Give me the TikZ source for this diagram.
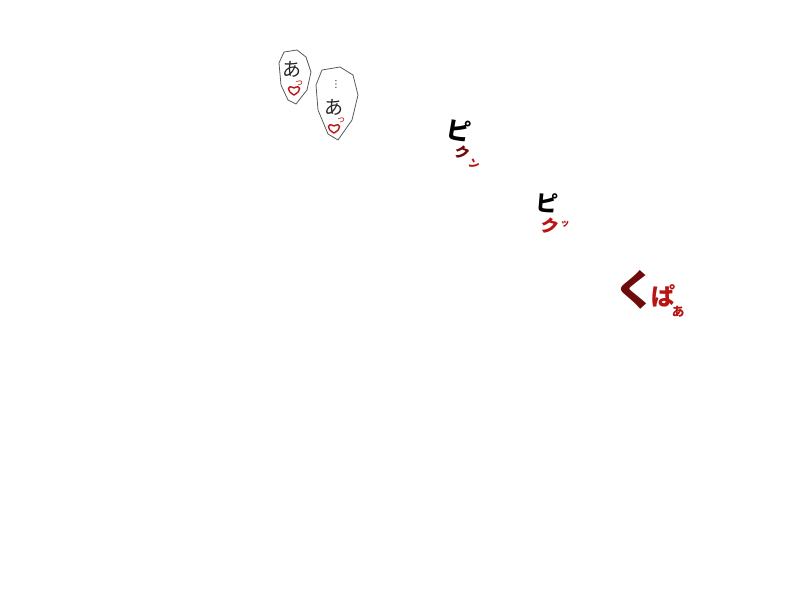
\documentclass[tikz,border=0pt]{standalone}
\usepackage{fontspec}
\newfontfamily\jp{Noto Sans CJK JP}
\newfontfamily\sym{DejaVu Sans}
\definecolor{sfxred}{RGB}{185,20,20}
\definecolor{sfxdark}{RGB}{110,10,10}
\tikzset{
  bubble/.style={draw=black!65, line width=0.8pt, fill=white, line join=round},
  jtxt/.style={inner sep=0pt, font=\jp},
  heartline/.style={draw=sfxred, line width=1.4pt, line join=round},
}
\begin{document}
\begin{tikzpicture}[x=1pt,y=-1pt]
\useasboundingbox (0,0) rectangle (800,600);
% bubble 1
\draw[bubble] (284,52) -- (297,50) -- (306,57) -- (311,72) -- (307,90) -- (296,104) -- (288,100) -- (281,85) -- (279,63) -- cycle;
\node[jtxt, font=\jp\fontsize{19}{19}\selectfont, text=black!85] (a1) at (292,69) {あ};
\node[jtxt, font=\jp\fontsize{9}{9}\selectfont, text=sfxred] (t1) at (299,83) {っ};
\coordinate (h1) at (294,90);
\draw[heartline] ([shift={(0,5)}]h1) .. controls ([shift={(-8,1)}]h1) and ([shift={(-7,-6)}]h1) .. ([shift={(0,-2)}]h1) .. controls ([shift={(7,-6)}]h1) and ([shift={(8,1)}]h1) .. cycle;
% bubble 2
\draw[bubble] (322,70) -- (340,67) -- (353,75) -- (358,95) -- (352,120) -- (338,140) -- (328,134) -- (318,110) -- (316,85) -- cycle;
\node[jtxt, font=\sym\fontsize{10}{10}\selectfont, rotate=90, text=black!80] (d2) at (336,84) {…};
\node[jtxt, font=\jp\fontsize{19}{19}\selectfont, text=black!85] (a2) at (334,107) {あ};
\node[jtxt, font=\jp\fontsize{9}{9}\selectfont, text=sfxred] (t2) at (341,120) {っ};
\coordinate (h2) at (334,128);
\draw[heartline] ([shift={(0,5)}]h2) .. controls ([shift={(-8,1)}]h2) and ([shift={(-7,-6)}]h2) .. ([shift={(0,-2)}]h2) .. controls ([shift={(7,-6)}]h2) and ([shift={(8,1)}]h2) .. cycle;
% ピクン
\node[jtxt, font=\jp\bfseries\fontsize{24}{24}\selectfont, rotate=-10, text=black] (p1) at (459,130) {ピ};
\node[jtxt, font=\jp\bfseries\fontsize{15}{15}\selectfont, rotate=-20, text=sfxdark] (k1) at (462,153) {ク};
\node[jtxt, font=\jp\bfseries\fontsize{11}{11}\selectfont, rotate=-25, text=sfxred] (n1) at (474,164) {ン};
% ピクッ
\node[jtxt, font=\jp\bfseries\fontsize{22}{22}\selectfont, rotate=-5, text=black] (p2) at (547,203) {ピ};
\node[jtxt, font=\jp\bfseries\fontsize{18}{18}\selectfont, rotate=-15, text=sfxred] (k2) at (550,226) {ク};
\node[jtxt, font=\jp\bfseries\fontsize{9}{9}\selectfont, text=sfxred] (x2) at (565,224) {ッ};
% くぱぁ
\node[jtxt, font=\jp\bfseries\fontsize{42}{42}\selectfont, text=sfxdark] (ku) at (635,290) {く};
\node[jtxt, font=\jp\bfseries\fontsize{24}{24}\selectfont, text=sfxred] (pa) at (663,296) {ぱ};
\node[jtxt, font=\jp\bfseries\fontsize{15}{15}\selectfont, text=sfxred] (aa) at (678,312) {ぁ};
\end{tikzpicture}
\end{document}
